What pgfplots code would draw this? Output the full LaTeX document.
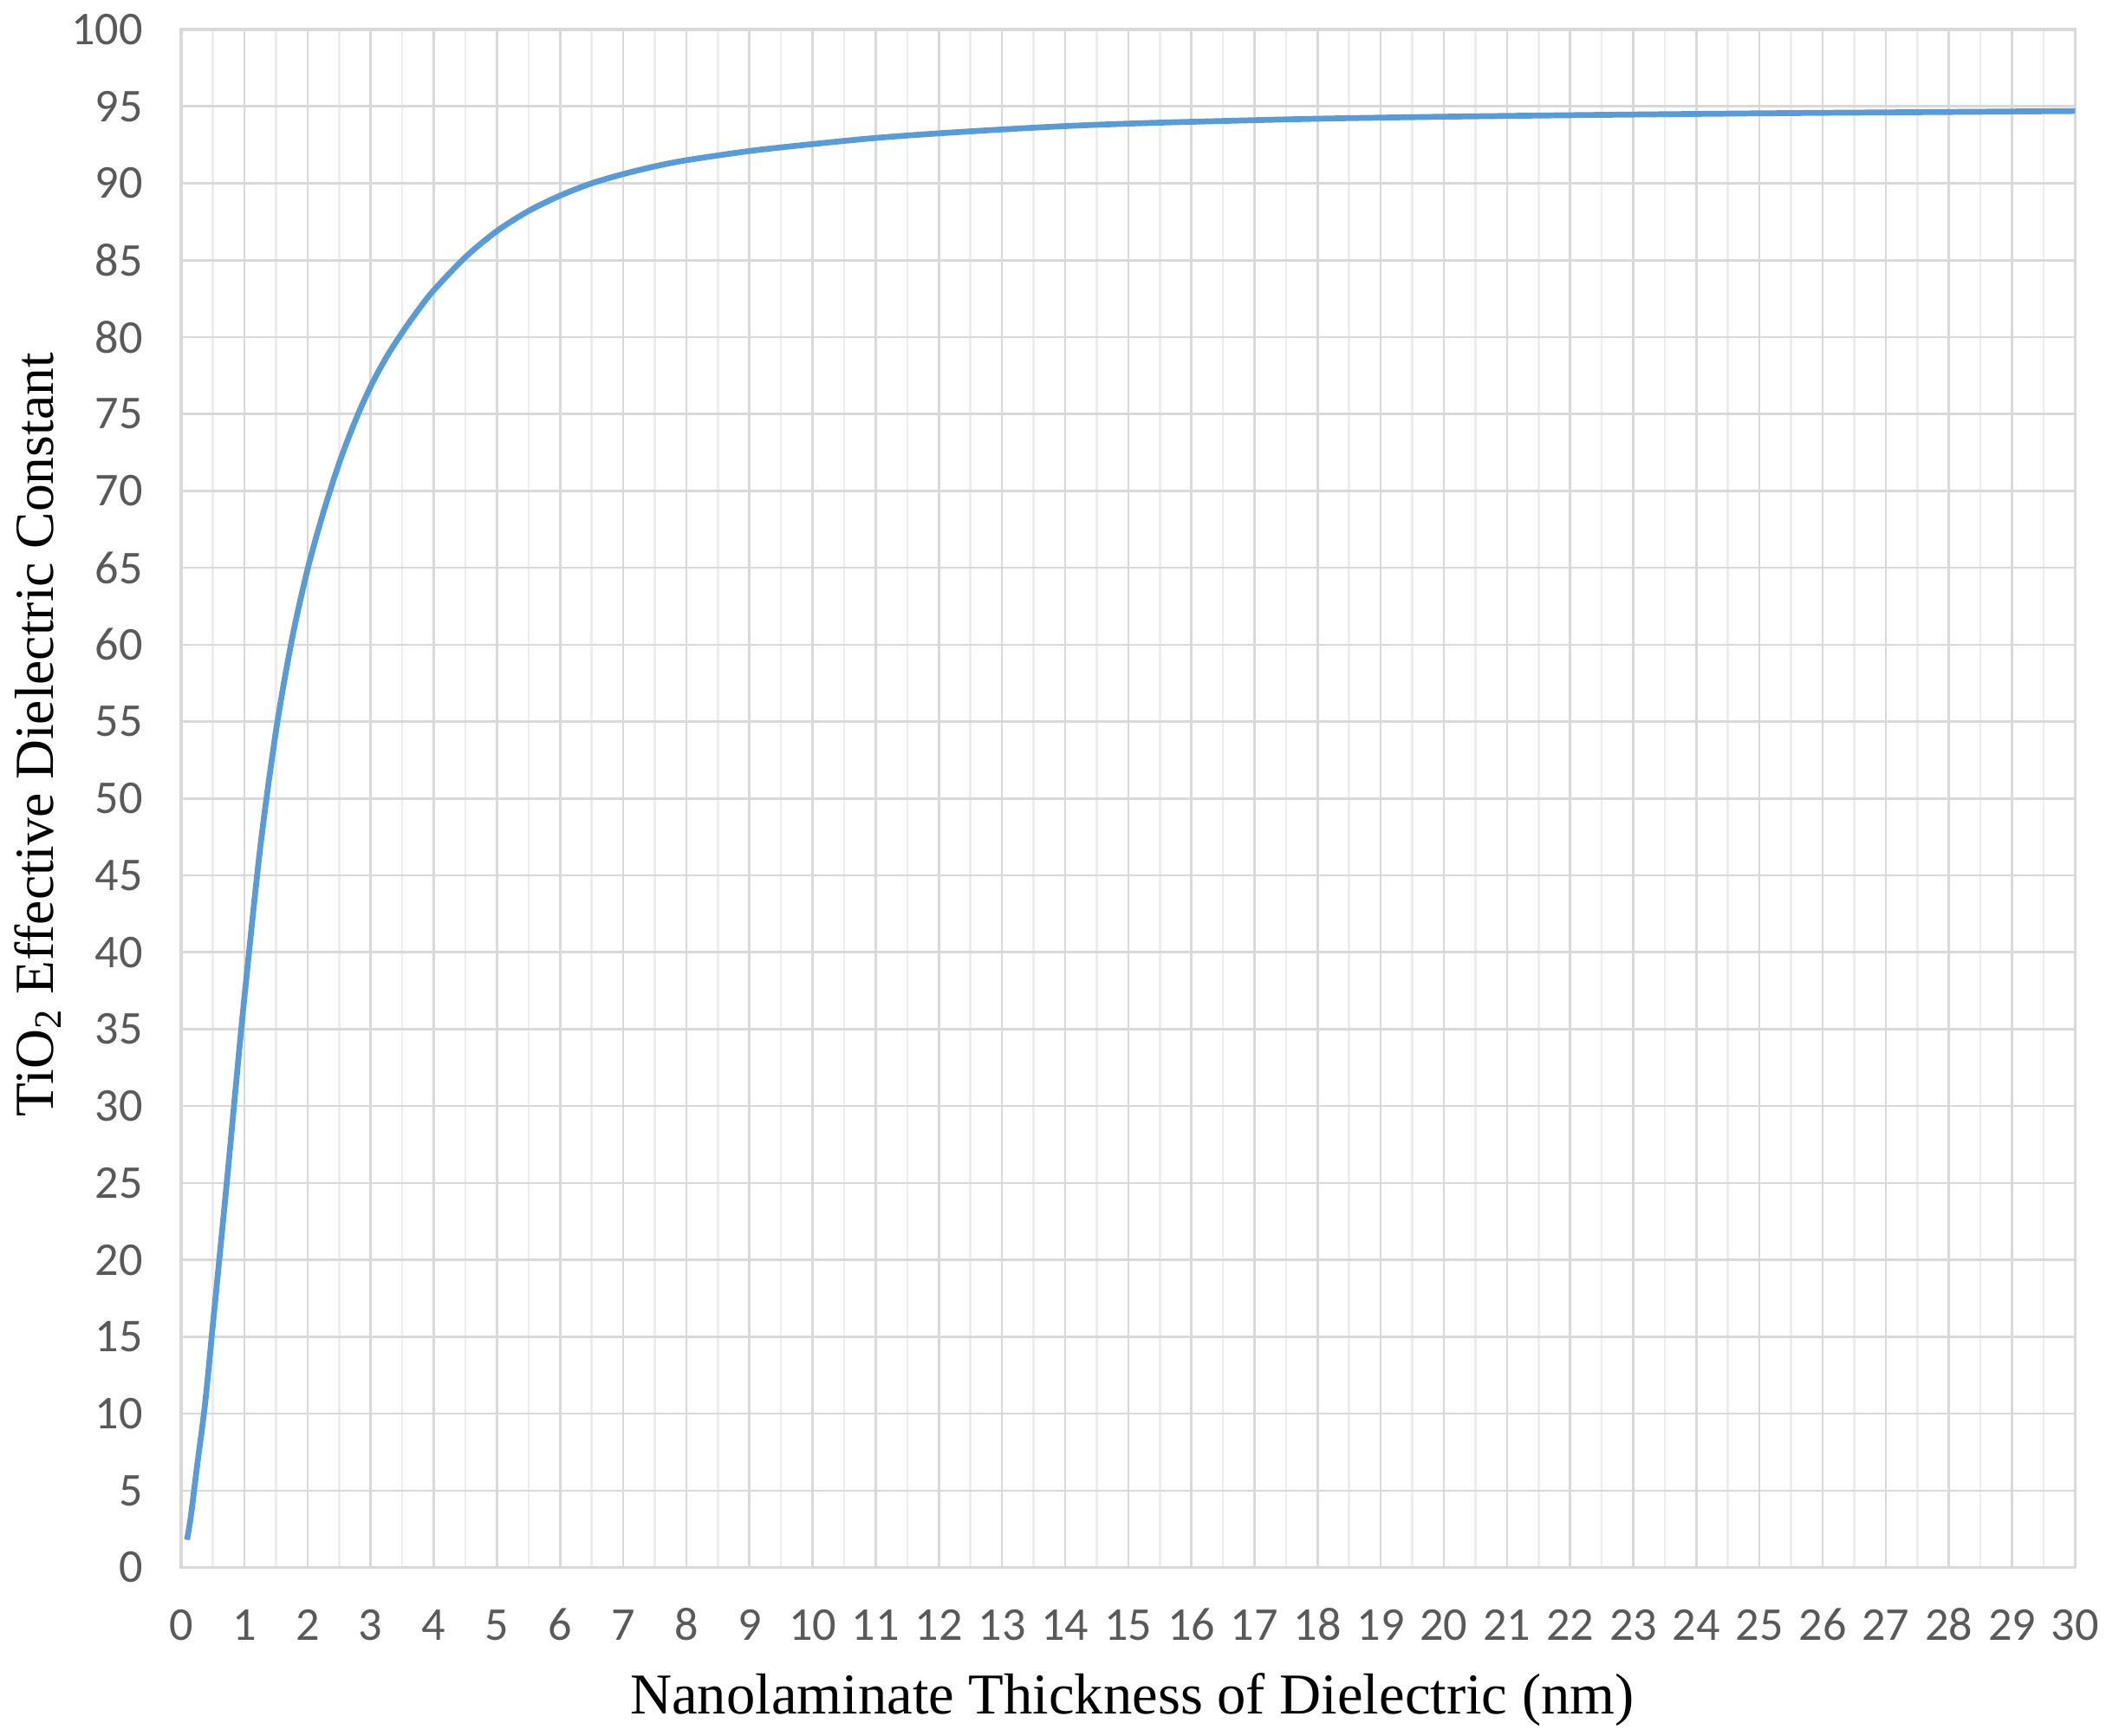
\documentclass[border=0pt]{standalone}
\usepackage{pgfplots}
\pgfplotsset{compat=1.18}
\usetikzlibrary{calc}
\usepackage{fontspec}
\setmainfont{Liberation Serif}
\newfontfamily\tickfont{Carlito}

\definecolor{gridgray}{HTML}{D9D9D9}
\definecolor{minorgray}{HTML}{EDEDED}
\definecolor{tickgray}{HTML}{595959}
\definecolor{curveblue}{HTML}{5B9BD5}

% thickness (nm) vs effective dielectric constant
\pgfplotstableread{
x y
0.09 1.8
0.15 3.3
0.25 6.6
0.375 10.6
0.5 15.8
0.625 21.0
0.75 26.3
0.875 31.8
1.0 37.1
1.25 46.8
1.5 54.4
1.75 60.3
2.0 64.9
2.25 68.6
2.5 71.8
2.75 74.5
3.0 76.8
3.25 78.7
3.5 80.3
3.75 81.75
4.0 83.05
4.5 85.2
5.0 86.9
5.5 88.2
6.0 89.2
6.5 90.0
7.0 90.6
7.5 91.1
8.0 91.5
9.0 92.1
10.0 92.55
11.0 92.95
12.0 93.25
13.0 93.5
14.0 93.72
15.0 93.88
16.0 94.0
18.0 94.2
20.0 94.33
22.0 94.43
25.0 94.55
28.0 94.64
30.0 94.7
}\datatable

\begin{document}
\begin{tikzpicture}
	\begin{axis}[
			scale only axis,
			width=423pt,
			height=343.5pt,
			xmin=0, xmax=30,
			ymin=0, ymax=100,
			xtick={0,1,...,30},
			ytick={0,5,...,100},
			minor x tick num=1,
			major tick length=0pt,
			minor tick length=0pt,
			grid=both,
			major grid style={gridgray, line width=0.5pt},
			minor grid style={minorgray, line width=0.5pt},
			axis line style={gridgray, line width=0.7pt},
			/pgf/number format/assume math mode=true,
			ticklabel style={font=\tickfont\fontsize{10.5}{12}\selectfont, text=tickgray},
			xticklabel style={anchor=base, inner sep=0pt, yshift=-16.3pt},
			yticklabel style={anchor=east, inner sep=0pt, xshift=-8.4pt},
			clip=false,
		]

		\addplot[color=curveblue, line width=1.3pt, smooth] table[x=x, y=y] {\datatable};

	\end{axis}

	% axis titles
	\node[anchor=base, font=\fontsize{12.9}{15}\selectfont]
		at ($(current axis.south west)+(212.4pt,-32.7pt)$) {Nanolaminate Thickness of Dielectric (nm)};
	\node[rotate=90, anchor=center, font=\fontsize{12.3}{15}\selectfont]
		at ($(current axis.south west)+(-32.1pt,186pt)$) {TiO\textsubscript{2} Effective Dielectric Constant};

	\pgfresetboundingbox
	\path ($(current axis.south west)+(-40.5pt,-37.5pt)$) rectangle ($(current axis.north east)+(6.9pt,6.6pt)$);
\end{tikzpicture}
\end{document}
